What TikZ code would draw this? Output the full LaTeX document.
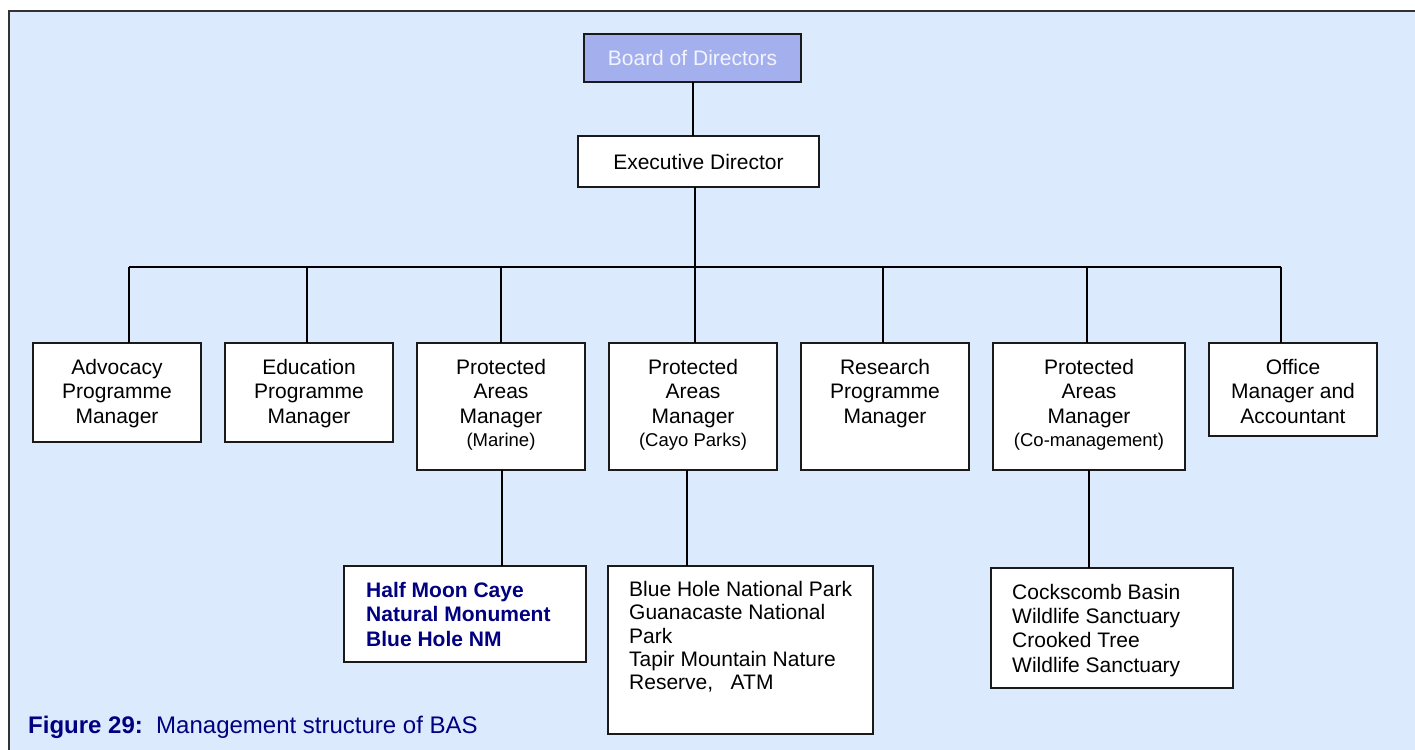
\documentclass[tikz,border=0pt]{standalone}
\usepackage{fontspec}
\setmainfont{Liberation Sans}
\definecolor{framefill}{HTML}{DBEBFD}
\definecolor{boardfill}{HTML}{A4B0EE}
\definecolor{boardtext}{HTML}{F2F4FF}
\definecolor{navy}{HTML}{000080}
\definecolor{edge}{HTML}{1A1A1A}
\begin{document}
\begin{tikzpicture}[x=1pt,y=-1pt,
  box/.style={draw=edge, line width=2pt, fill=white, rectangle, inner sep=0pt, outer sep=0pt, anchor=north west},
  lbl/.style={inner sep=0pt, align=center, font=\fontsize{21}{24.5}\selectfont},
  lst/.style={inner sep=0pt, align=left, anchor=north west, font=\fontsize{21}{24}\selectfont},
  conn/.style={draw=black, line width=2pt}]
\useasboundingbox (0,0) rectangle (1415,749);
\clip (0,0) rectangle (1415,749);
% frame
\fill[framefill] (9,11) rectangle (1430,770);
\draw[line width=2pt, draw=black!80] (9,770) -- (9,11) -- (1430,11);
% top
\node[box, fill=boardfill, minimum width=217pt, minimum height=48pt] (board) at (584,34) {};
\node[lbl, text=boardtext] (boardt) at (board.center) {Board of Directors};
\node[box, minimum width=241pt, minimum height=51pt] (exec) at (578,136) {};
\node[lbl] (exect) at (exec.center) {Executive Director};
% managers
\node[box, minimum width=168pt, minimum height=99pt] (adv) at (33,343) {};
\node[box, minimum width=168pt, minimum height=99pt] (edu) at (225,343) {};
\node[box, minimum width=168pt, minimum height=127pt] (mar) at (417,343) {};
\node[box, minimum width=168pt, minimum height=127pt] (cayo) at (609,343) {};
\node[box, minimum width=168pt, minimum height=127pt] (res) at (801,343) {};
\node[box, minimum width=192pt, minimum height=127pt] (com) at (993,343) {};
\node[box, minimum width=168pt, minimum height=93pt] (off) at (1209,343) {};
\node[lbl, anchor=north] (advt) at ([yshift=-16pt]adv.north) {Advocacy\\Programme\\Manager};
\node[lbl, anchor=north] (edut) at ([yshift=-16pt]edu.north) {Education\\Programme\\Manager};
\node[lbl, anchor=north] (mart) at ([yshift=-16pt]mar.north) {Protected\\Areas\\Manager\\[-1.5pt]{\fontsize{18.5}{22}\selectfont (Marine)}};
\node[lbl, anchor=north] (cayot) at ([yshift=-16pt]cayo.north) {Protected\\Areas\\Manager\\[-1.5pt]{\fontsize{18.5}{22}\selectfont (Cayo Parks)}};
\node[lbl, anchor=north] (rest) at ([yshift=-16pt]res.north) {Research\\Programme\\Manager};
\node[lbl, anchor=north] (comt) at ([yshift=-16pt]com.north) {Protected\\Areas\\Manager\\[-1.5pt]{\fontsize{18.5}{22}\selectfont (Co-management)}};
\node[lbl, anchor=north] (offt) at ([yshift=-16pt]off.north) {Office\\Manager and\\Accountant};
% children
\node[box, minimum width=242pt, minimum height=96pt] (hm) at (344,566) {};
\node[lst, text=navy, font=\fontsize{21}{24.5}\selectfont\bfseries] (hmt) at ([xshift=22pt,yshift=-16pt]hm.north west) {Half Moon Caye\\Natural Monument\\Blue Hole NM};
\node[box, minimum width=265pt, minimum height=168pt] (bh) at (608,566) {};
\node[lst, font=\fontsize{21}{23.3}\selectfont] (bht) at ([xshift=21pt,yshift=-15pt]bh.north west) {Blue Hole National Park\\Guanacaste National\\Park\\Tapir Mountain Nature\\Reserve,\ \ \ ATM};
\node[box, minimum width=242pt, minimum height=120pt] (cb) at (991,568) {};
\node[lst, font=\fontsize{21}{24.2}\selectfont] (cbt) at ([xshift=21pt,yshift=-16pt]cb.north west) {Cockscomb Basin\\Wildlife Sanctuary\\Crooked Tree\\Wildlife Sanctuary};
% connectors
\coordinate (execb) at ([xshift=-3.5pt]exec.south);
\coordinate (busL) at (129,267);
\coordinate (busR) at (1281,267);
\draw[conn] (board.south) -- (board.south |- exec.north);
\draw[conn] (execb) -- (execb |- busL);
\draw[conn] (busL) -- (busR);
\draw[conn] (busL) -- (busL |- adv.north);
\draw[conn] ([xshift=-2pt]edu.north |- busL) -- ([xshift=-2pt]edu.north);
\draw[conn] (mar.north |- busL) -- (mar.north);
\draw[conn] ([xshift=2pt]cayo.north |- busL) -- ([xshift=2pt]cayo.north);
\draw[conn] ([xshift=-2pt]res.north |- busL) -- ([xshift=-2pt]res.north);
\draw[conn] ([xshift=-2pt]com.north |- busL) -- ([xshift=-2pt]com.north);
\draw[conn] (busR) -- (busR |- off.north);
\draw[conn] ([xshift=1pt]mar.south) -- ([xshift=1pt]mar.south |- hm.north);
\draw[conn] ([xshift=-6pt]cayo.south) -- ([xshift=-6pt]cayo.south |- bh.north);
\draw[conn] (com.south) -- (com.south |- cb.north);
% caption
\node[inner sep=0pt, anchor=base west, text=navy, font=\fontsize{24}{28}\selectfont] (cap) at (28,733) {{\bfseries Figure 29:}~~Management structure of BAS};
\end{tikzpicture}
\end{document}
